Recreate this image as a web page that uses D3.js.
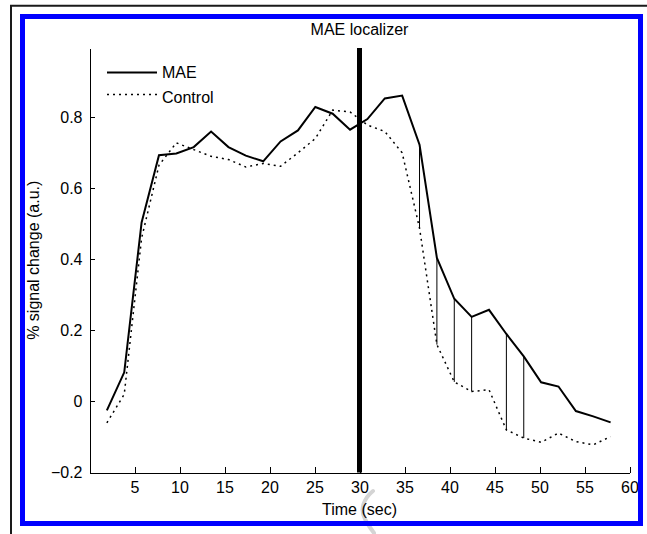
<!DOCTYPE html>
<html>
<head>
<meta charset="utf-8">
<script src="https://cdn.jsdelivr.net/npm/d3@7"></script>
<style>
  body { margin: 0; background: #fff; }
  svg { display: block; }
  text { font-family: "Liberation Sans", Arial, Helvetica, sans-serif; font-size: 16px; fill: #000; }
</style>
</head>
<body>
<script>
// Sample times (s), one volume per TR
const timeSec = [1.93, 3.86, 5.79, 7.72, 9.65, 11.58, 13.51, 15.44, 17.37, 19.30,
                 21.23, 23.16, 25.09, 27.02, 28.95, 30.88, 32.81, 34.74, 36.67, 38.60,
                 40.53, 42.46, 44.39, 46.32, 48.25, 50.18, 52.11, 54.04, 55.97, 57.90];

// Mean % signal change, MAE condition
const maeSignal = [-0.025, 0.082, 0.504, 0.693, 0.698, 0.716, 0.760, 0.716, 0.692, 0.676,
                   0.732, 0.763, 0.829, 0.810, 0.765, 0.795, 0.853, 0.861, 0.723, 0.404,
                   0.289, 0.238, 0.258, 0.190, 0.127, 0.054, 0.042, -0.027, -0.042, -0.059];

// Mean % signal change, control condition
const controlSignal = [-0.060, 0.020, 0.460, 0.665, 0.728, 0.709, 0.690, 0.681, 0.660, 0.670,
                       0.662, 0.700, 0.740, 0.820, 0.815, 0.778, 0.760, 0.700, 0.488, 0.160,
                       0.055, 0.028, 0.033, -0.080, -0.103, -0.115, -0.089, -0.113, -0.122, -0.099];

// Time points where MAE and control differ (marked by connecting lines)
const diffTimes = [36.67, 38.60, 40.53, 42.46, 46.32, 48.25];

// Stimulus offset
const offsetTime = 30;

const xTicks = [5, 10, 15, 20, 25, 30, 35, 40, 45, 50, 55, 60];
const yTicks = [-0.2, 0, 0.2, 0.4, 0.6, 0.8];

const W = 647, H = 534;
const svg = d3.select("body").append("svg").attr("width", W).attr("height", H);

const x = d3.scaleLinear().domain([0, 60]).range([89.5, 629.5]);
const y = d3.scaleLinear().domain([-0.2, 0.995]).range([472.5, 48]);

// Page border lines (top and left)
svg.append("path")
  .attr("d", "M11,534V5.7H647")
  .attr("fill", "none").attr("stroke", "#1a1a1a").attr("stroke-width", 2);

// Light pen mark near the axis title
svg.append("path")
  .attr("d", "M373,491 C363,499 360,510 365,519 C368,525 371,529 374,533")
  .attr("fill", "none").attr("stroke", "#d4d4d4").attr("stroke-width", 4)
  .attr("stroke-linecap", "round");

// Axes
const xAxis = d3.axisBottom(x).tickValues(xTicks).tickSizeInner(-6).tickSizeOuter(0)
  .tickPadding(9).tickFormat(d3.format("d"));
const yAxis = d3.axisLeft(y).tickValues(yTicks).tickSizeInner(-5).tickSizeOuter(0)
  .tickPadding(7).tickFormat(d => d === 0 ? "0" : d3.format(".1f")(d));

const gx = svg.append("g").attr("transform", `translate(0,${y(-0.2)})`).call(xAxis);
const gy = svg.append("g").attr("transform", `translate(${x(0)},0)`).call(yAxis);
[gx, gy].forEach(g => {
  g.selectAll("path, line").attr("stroke", "#000").attr("shape-rendering", "crispEdges");
  g.selectAll("text").attr("font-size", 16).attr("font-family", null).style("fill", "#000");
});

// Stimulus offset marker
svg.append("line")
  .attr("x1", x(offsetTime)).attr("x2", x(offsetTime))
  .attr("y1", y(-0.2)).attr("y2", y(0.995))
  .attr("stroke", "#000").attr("stroke-width", 5);

// Difference markers between conditions
const idxOf = t => timeSec.indexOf(t);
svg.append("g").selectAll("line").data(diffTimes).join("line")
  .attr("x1", d => x(d)).attr("x2", d => x(d))
  .attr("y1", d => y(maeSignal[idxOf(d)]))
  .attr("y2", d => y(controlSignal[idxOf(d)]))
  .attr("stroke", "#000").attr("stroke-width", 1);

const line = d3.line().x(d => x(d[0])).y(d => y(d[1]));

svg.append("path")
  .datum(timeSec.map((t, i) => [t, controlSignal[i]]))
  .attr("d", line).attr("fill", "none").attr("stroke", "#000")
  .attr("stroke-width", 1.5).attr("stroke-dasharray", "2 4");

svg.append("path")
  .datum(timeSec.map((t, i) => [t, maeSignal[i]]))
  .attr("d", line).attr("fill", "none").attr("stroke", "#000")
  .attr("stroke-width", 2);

// Legend
const legend = [
  { name: "MAE", dash: null, width: 2, ly: 72.5, ty: 78 },
  { name: "Control", dash: "2 4", width: 1.5, ly: 94.5, ty: 103 }
];
const lg = svg.append("g").selectAll("g").data(legend).join("g");
lg.append("line")
  .attr("x1", 107).attr("x2", 157).attr("y1", d => d.ly).attr("y2", d => d.ly)
  .attr("stroke", "#000").attr("stroke-width", d => d.width)
  .attr("stroke-dasharray", d => d.dash);
lg.append("text").attr("x", 162).attr("y", d => d.ty).text(d => d.name);

// Titles
svg.append("text").attr("x", x(30)).attr("y", 35).attr("text-anchor", "middle")
  .text("MAE localizer");
svg.append("text").attr("x", x(30)).attr("y", 515).attr("text-anchor", "middle")
  .text("Time (sec)");
svg.append("text")
  .attr("transform", `translate(39,${(y(-0.2) + y(0.995)) / 2}) rotate(-90)`)
  .attr("text-anchor", "middle")
  .text("% signal change (a.u.)");

// Blue frame
svg.append("rect")
  .attr("x", 22.5).attr("y", 16.5).attr("width", 618).attr("height", 507)
  .attr("fill", "none").attr("stroke", "#0000ff").attr("stroke-width", 5);
</script>
</body>
</html>
